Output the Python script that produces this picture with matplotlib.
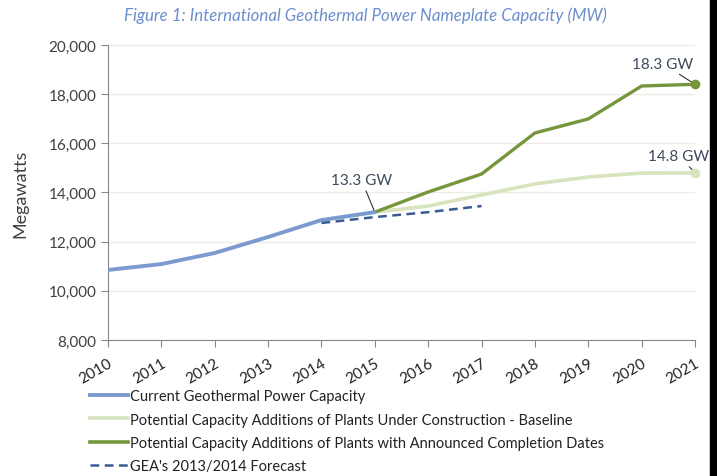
import matplotlib.pyplot as plt
from matplotlib.lines import Line2D
from matplotlib.patches import Rectangle
from matplotlib.ticker import FuncFormatter

plt.rcParams["font.family"] = ["Lato", "DejaVu Sans"]

years = [2010, 2011, 2012, 2013, 2014, 2015, 2016, 2017, 2018, 2019, 2020, 2021]
current_years = [2010, 2011, 2012, 2013, 2014, 2015]
current_mw = [10850, 11090, 11540, 12190, 12880, 13200]
future_years = [2015, 2016, 2017, 2018, 2019, 2020, 2021]
baseline_mw = [13200, 13450, 13900, 14350, 14630, 14790, 14800]
announced_mw = [13200, 14020, 14750, 16420, 16990, 18330, 18400]
forecast_years = [2014, 2015, 2016, 2017]
forecast_mw = [12760, 13000, 13200, 13450]

labels = [
    "Current Geothermal Power Capacity",
    "Potential Capacity Additions of Plants Under Construction - Baseline",
    "Potential Capacity Additions of Plants with Announced Completion Dates",
    "GEA's 2013/2014 Forecast",
]

c_blue = "#7b9bd0"
c_light = "#d7e4bd"
c_dark = "#76963c"
c_dash = "#3a5a96"
c_text = "#404040"

fig = plt.figure(figsize=(7.17, 4.77), dpi=100)
ax = fig.add_axes([0.1506, 0.285, 0.8187, 0.6187])

ax.plot(future_years, baseline_mw, color=c_light, lw=2.6, solid_capstyle="round", zorder=2)
ax.plot(future_years, announced_mw, color=c_dark, lw=2.4, solid_capstyle="round", zorder=3)
ax.plot(current_years, current_mw, color=c_blue, lw=2.8, solid_capstyle="round", zorder=4)
ax.plot(forecast_years, forecast_mw, color=c_dash, lw=1.8, dashes=(3.5, 2.2), zorder=5)
ax.plot([future_years[-1]], [announced_mw[-1]], "o", color=c_dark, ms=6, zorder=6, clip_on=False)
ax.plot([future_years[-1]], [baseline_mw[-1]], "o", color=c_light, ms=6, zorder=6, clip_on=False)

ax.set_xlim(2010, 2021)
ax.set_ylim(8000, 20000)
ax.set_yticks(range(8000, 20001, 2000))
ax.yaxis.set_major_formatter(FuncFormatter(lambda v, p: f"{int(v):,}"))
ax.set_xticks(years)
ax.set_xticklabels([str(y) for y in years], rotation=30, ha="right",
                   rotation_mode="anchor", fontsize=11, color="#222222")
ax.tick_params(axis="y", labelsize=11, labelcolor=c_text, length=5, color="#888888")
ax.tick_params(axis="x", length=5, color="#888888", pad=6)
ax.grid(axis="y", color="#ecebe4", lw=1)
ax.set_axisbelow(True)
for s in ["top", "right"]:
    ax.spines[s].set_visible(False)
for s in ["left", "bottom"]:
    ax.spines[s].set_color("#888888")
ax.set_ylabel("Megawatts", fontsize=13, color=c_text, labelpad=14)

ann = dict(fontsize=11, color="#3d4a5c")
ax.annotate("13.3 GW", xy=(2015, current_mw[-1]), xytext=(2014.75, 14230),
            ha="center", va="bottom", arrowprops=dict(arrowstyle="-", color="#333333", lw=0.8,
                                                       shrinkA=1, shrinkB=0), **ann)
ax.annotate("18.3 GW", xy=(2021, announced_mw[-1]), xytext=(2020.4, 18950),
            ha="center", va="bottom", arrowprops=dict(arrowstyle="-", color="#333333", lw=0.8,
                                                       shrinkA=1, shrinkB=3), **ann)
ax.annotate("14.8 GW", xy=(2021, baseline_mw[-1]), xytext=(2020.7, 15200),
            ha="center", va="bottom", arrowprops=dict(arrowstyle="-", color="#333333", lw=0.8,
                                                       shrinkA=1, shrinkB=3), **ann)

fig.text(0.51, 0.966, "Figure 1: International Geothermal Power Nameplate Capacity (MW)",
         ha="center", va="center", fontsize=12.2, style="italic", color="#6a8fcc")

handles = [
    Line2D([], [], color=c_blue, lw=2.8),
    Line2D([], [], color=c_light, lw=2.6),
    Line2D([], [], color=c_dark, lw=2.6),
    Line2D([], [], color=c_dash, lw=1.8, dashes=(3.5, 2.2)),
]
fig.legend(handles, labels, loc="upper left", bbox_to_anchor=(0.125, 0.182),
           frameon=False, fontsize=10.5, handlelength=2.6, handletextpad=0.2,
           labelspacing=0.64, borderaxespad=0, borderpad=0, labelcolor="#222222")

fig.patches.append(Rectangle((710 / 717, 0), 7 / 717, 1, transform=fig.transFigure,
                             color="black", zorder=10))

fig.savefig("out.png", dpi=100)
